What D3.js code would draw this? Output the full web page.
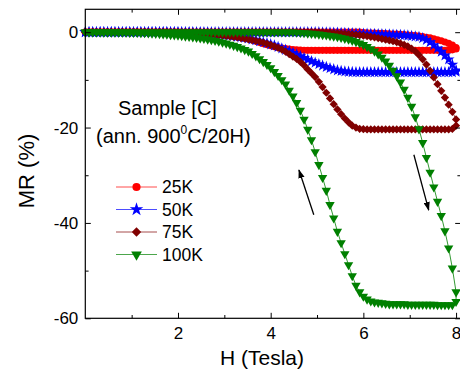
<!DOCTYPE html>
<html>
<head>
<meta charset="utf-8">
<script src="https://cdn.jsdelivr.net/npm/d3@7"></script>
<style>
  body { margin: 0; background: #fff; }
  svg { display: block; font-family: "Liberation Sans", Arial, sans-serif; }
</style>
</head>
<body>
<div id="chart"></div>
<script>
// field sweep, Tesla (same grid for up and down sweeps)
var field = [
  0, 0.08, 0.16, 0.24, 0.32, 0.4, 0.48, 0.56, 0.64, 0.72,
  0.8, 0.88, 0.96, 1.04, 1.12, 1.2, 1.28, 1.36, 1.44, 1.52,
  1.6, 1.68, 1.76, 1.84, 1.92, 2, 2.08, 2.16, 2.24, 2.32,
  2.4, 2.48, 2.56, 2.64, 2.72, 2.8, 2.88, 2.96, 3.04, 3.12,
  3.2, 3.28, 3.36, 3.44, 3.52, 3.6, 3.68, 3.76, 3.84, 3.92,
  4, 4.08, 4.16, 4.24, 4.32, 4.4, 4.48, 4.56, 4.64, 4.72,
  4.8, 4.88, 4.96, 5.04, 5.12, 5.2, 5.28, 5.36, 5.44, 5.52,
  5.6, 5.68, 5.76, 5.84, 5.92, 6, 6.08, 6.16, 6.24, 6.32,
  6.4, 6.48, 6.56, 6.64, 6.72, 6.8, 6.88, 6.96, 7.04, 7.12,
  7.2, 7.28, 7.36, 7.44, 7.52, 7.6, 7.68, 7.76, 7.84, 7.92,
  8
];

// MR (%) on the increasing-field sweep
var mr25Up = [
  0,0,0,0,0,0,0,0,0,0, 0,0,0,0,0,0,0,0,0,0,
  0,0,0,0,0,0,0,0,0,0, 0,0,0,0,0,0,0,0,0,0,
  0,0,0,0,0,0,0,0,0,0, 0,0,0,0,0,0,0,0,0,0,
  0,0,0,0,0,0,0,0,0,0,
  0,0,0,0,0,-0.1,-0.13,-0.16,-0.19,-0.22,
  -0.26,-0.3,-0.33,-0.37,-0.42,-0.47,-0.52,-0.58,-0.64,-0.72,
  -0.82,-0.93,-1.05,-1.2,-1.38,-1.58,-1.8,-2.05,-2.35,-2.7,
  -3.2
];
// MR (%) on the decreasing-field sweep (stored in ascending field order)
var mr25Down = [
  0,0,0,0,0,0,0,0,0,0, 0,0,0,0,0,0,0,0,0,0,
  0,0,0,0,0,0,-0.01,-0.02,-0.03,-0.045,
  -0.06,-0.08,-0.1,-0.13,-0.16,-0.2,-0.25,-0.31,-0.38,-0.48,
  -0.6,-0.76,-0.95,-1.17,-1.4,-1.65,-1.9,-2.15,-2.4,-2.63,
  -2.85,-3.03,-3.2,-3.33,-3.45,-3.55,-3.63,-3.7,-3.75,-3.78,
  -3.8,-3.8,-3.8,-3.8,-3.8,-3.8,-3.8,-3.8,-3.8,-3.8,
  -3.8,-3.8,-3.8,-3.8,-3.8,-3.8,-3.8,-3.8,-3.8,-3.8,
  -3.8,-3.8,-3.8,-3.8,-3.8,-3.8,-3.8,-3.8,-3.8,-3.8,
  -3.8,-3.8,-3.8,-3.8,-3.8,-3.8,-3.8,-3.8,-3.8,-3.7,
  -3.5
];

var mr50Up = [
  0,0,0,0,0,0,0,0,0,0, 0,0,0,0,0,0,0,0,0,0,
  0,0,0,0,0,0,0,0,0,0, 0,0,0,0,0,0,0,0,0,0,
  0,0,0,0,0,0,0,0,0,0, 0,0,0,0,0,0,0,0,0,0,
  0,0,0,-0.03,-0.05,-0.07,-0.09,-0.11,-0.13,-0.15,
  -0.18,-0.2,-0.23,-0.26,-0.29,-0.32,-0.34,-0.37,-0.4,-0.42,
  -0.45,-0.48,-0.51,-0.54,-0.57,-0.6,-0.65,-0.72,-0.8,-0.9,
  -1.0,-1.25,-1.6,-2.1,-2.7,-3.4,-4.1,-4.9,-5.7,-6.8,
  -8.0
];
var mr50Down = [
  0,0,0,0,0,0,0,0,0,0, 0,0,0,0,0,0,0,0,0,0,
  0,-0.01,-0.02,-0.03,-0.04,-0.05,-0.07,-0.09,-0.11,-0.13,
  -0.16,-0.19,-0.22,-0.26,-0.3,-0.35,-0.41,-0.5,-0.6,-0.7,
  -0.8,-0.92,-1.03,-1.17,-1.32,-1.5,-1.7,-1.9,-2.1,-2.3,
  -2.55,-2.8,-3.1,-3.4,-3.7,-4.0,-4.35,-4.7,-5.05,-5.4,
  -5.75,-6.1,-6.4,-6.7,-7.0,-7.3,-7.55,-7.8,-8.0,-8.15,
  -8.25,-8.32,-8.37,-8.4,-8.4,-8.4,-8.4,-8.4,-8.4,-8.4,
  -8.4,-8.4,-8.4,-8.4,-8.4,-8.4,-8.4,-8.4,-8.4,-8.4,
  -8.4,-8.4,-8.4,-8.4,-8.4,-8.4,-8.4,-8.4,-8.4,-8.4,
  -8.3
];

var mr75Up = [
  0,0,0,0,0,0,0,0,0,0, 0,0,0,0,0,0,0,0,0,0,
  0,0,0,0,0,0,0,0,0,0, 0,0,0,0,0,0,0,0,0,0,
  0,0,0,0,0,0,0,0,0,0, 0,0,0,0,0,0,0,0,0,0,
  0,0,0,-0.03,-0.06,-0.1,-0.14,-0.18,-0.23,-0.28,
  -0.34,-0.4,-0.47,-0.55,-0.64,-0.74,-0.85,-0.97,-1.1,-1.24,
  -1.4,-1.56,-1.72,-1.9,-2.1,-2.35,-2.65,-3.0,-3.45,-4.0,
  -4.8,-5.7,-6.8,-8.1,-9.5,-10.9,-12.3,-13.7,-15.2,-16.7,
  -18.3
];
var mr75Down = [
  0,0,0,0,0,0,0,0,0,0,
  0,0,0,0,0,-0.01,-0.01,-0.02,-0.02,-0.03,
  -0.04,-0.05,-0.06,-0.07,-0.09,-0.1,-0.12,-0.15,-0.19,-0.23,
  -0.28,-0.32,-0.37,-0.42,-0.48,-0.55,-0.61,-0.7,-0.78,-0.88,
  -1.0,-1.1,-1.23,-1.37,-1.52,-1.68,-1.84,-2.0,-2.18,-2.4,
  -2.65,-2.95,-3.28,-3.65,-4.1,-4.6,-5.1,-5.6,-6.2,-6.95,
  -7.8,-8.6,-9.4,-10.4,-11.5,-12.7,-13.9,-15.1,-16.2,-17.2,
  -18.1,-18.9,-19.6,-20.0,-20.25,-20.35,-20.4,-20.4,-20.4,-20.4,
  -20.4,-20.4,-20.4,-20.4,-20.4,-20.4,-20.4,-20.4,-20.4,-20.4,
  -20.4,-20.4,-20.4,-20.4,-20.4,-20.4,-20.4,-20.4,-20.4,-20.3,
  -19.6
];

var mr100Up = [
  0,0,0,0,0,0,0,0,0,0, 0,0,0,0,0,0,0,0,0,0,
  0,0,0,0,0,0,0,0,0,0, 0,0,0,0,0,0,0,0,0,0,
  0,0,0,0,0,0,0,0,0,0,
  0,0,0,0,0,0,0,-0.05,-0.1,-0.16,
  -0.22,-0.29,-0.36,-0.44,-0.53,-0.63,-0.74,-0.86,-1.0,-1.15,
  -1.32,-1.52,-1.75,-2.0,-2.3,-2.65,-3.05,-3.5,-4.0,-4.6,
  -5.3,-6.1,-7.0,-8.0,-9.2,-10.5,-12.0,-13.7,-15.6,-17.8,
  -20.3,-23.2,-26.3,-29.4,-32.5,-35.5,-38.5,-41.7,-45.3,-49.5,
  -54.5
];
var mr100Down = [
  0,0,0,0,0,-0.01,-0.01,-0.02,-0.02,-0.03,
  -0.04,-0.05,-0.06,-0.08,-0.1,-0.13,-0.16,-0.2,-0.24,-0.29,
  -0.34,-0.4,-0.46,-0.53,-0.6,-0.68,-0.76,-0.85,-0.94,-1.03,
  -1.13,-1.24,-1.36,-1.49,-1.63,-1.78,-1.94,-2.12,-2.32,-2.55,
  -2.8,-3.07,-3.36,-3.68,-4.0,-4.5,-5.0,-5.6,-6.2,-6.8,
  -7.5,-8.3,-9.1,-10.0,-10.9,-12.2,-13.4,-14.8,-16.4,-18.3,
  -20.4,-22.6,-25.1,-27.8,-30.5,-33.2,-36.2,-39.0,-41.8,-44.2,
  -46.5,-48.8,-51.1,-53.1,-54.5,-55.4,-56.0,-56.4,-56.6,-56.7,
  -56.8,-56.9,-57.0,-57.0,-57.0,-57.0,-57.0,-57.1,-57.1,-57.1,
  -57.1,-57.1,-57.1,-57.1,-57.1,-57.2,-57.2,-57.2,-57.2,-57.2,
  -56.5
];

var temps = ["25K", "50K", "75K", "100K"];
var xMajor = [2, 4, 6, 8], xMinor = [1, 3, 5, 7];
var yMajor = [0, -20, -40, -60], yMinor = [-10, -30, -50];

var W = 460, H = 369;
var plotL = 85.3, plotR = 460.7, plotT = 9.3, plotB = 318.3;

var x = d3.scaleLinear().domain([0, 8.1]).range([plotL, plotR]);
var y = d3.scaleLinear().domain([-60, 4.8]).range([plotB, plotT]);

var svg = d3.select("#chart").append("svg").attr("width", W).attr("height", H);

// one loop per temperature: up sweep 0 -> 8 T, then back down 8 -> 0 T
function loop(up, down) {
  var pts = field.map(function(h, i){ return [h, up[i]]; });
  for (var i = field.length - 1; i >= 0; i--) pts.push([field[i], down[i]]);
  return pts;
}

var series = [
  {name: temps[0], color: "#ff0000", sym: d3.symbolCircle, size: 40, rot: 0, pts: loop(mr25Up, mr25Down)},
  {name: temps[1], color: "#0000ff", sym: d3.symbolStar, size: 44, rot: 0, pts: loop(mr50Up, mr50Down)},
  {name: temps[2], color: "#800000", sym: d3.symbolSquare, size: 34, rot: 45, pts: loop(mr75Up, mr75Down)},
  {name: temps[3], color: "#008000", sym: d3.symbolTriangle, size: 38, rot: 180, pts: loop(mr100Up, mr100Down)}
];

var line = d3.line().x(function(d){ return x(d[0]); }).y(function(d){ return y(d[1]); });

series.forEach(function(s){
  var g = svg.append("g");
  g.append("path").attr("d", line(s.pts))
    .attr("fill", "none").attr("stroke", s.color).attr("stroke-width", 1).attr("stroke-opacity", 0.8);
  var shape = d3.symbol().type(s.sym).size(s.size)();
  g.selectAll("path.pt").data(s.pts).enter().append("path").attr("class", "pt")
    .attr("d", shape)
    .attr("transform", function(d){ return "translate(" + x(d[0]) + "," + y(d[1]) + ") rotate(" + s.rot + ")"; })
    .attr("fill", s.color);
});

// axes: ticks point inward on all four sides
function styleAxis(g) {
  g.select(".domain").remove();
  g.selectAll(".tick line").attr("stroke", "#000").attr("stroke-width", 1);
  g.selectAll(".tick text").attr("fill", "#000").style("font-size", "17px")
    .style("font-family", "'Liberation Sans', Arial, sans-serif");
}
var fmt = function(d){ return String(d); };

svg.append("g").attr("transform", "translate(0," + plotB + ")")
  .call(d3.axisBottom(x).tickValues(xMajor).tickSize(-5.5).tickPadding(9).tickFormat(fmt)).call(styleAxis);
svg.append("g").attr("transform", "translate(0," + plotB + ")")
  .call(d3.axisBottom(x).tickValues(xMinor).tickSize(-3.3).tickFormat("")).call(styleAxis);
svg.append("g").attr("transform", "translate(0," + plotT + ")")
  .call(d3.axisTop(x).tickValues(xMajor).tickSize(-5.5).tickFormat("")).call(styleAxis);
svg.append("g").attr("transform", "translate(0," + plotT + ")")
  .call(d3.axisTop(x).tickValues(xMinor).tickSize(-3.3).tickFormat("")).call(styleAxis);

svg.append("g").attr("transform", "translate(" + plotL + ",0)")
  .call(d3.axisLeft(y).tickValues(yMajor).tickSize(-5.5).tickPadding(7).tickFormat(fmt)).call(styleAxis);
svg.append("g").attr("transform", "translate(" + plotL + ",0)")
  .call(d3.axisLeft(y).tickValues(yMinor).tickSize(-3.3).tickFormat("")).call(styleAxis);
svg.append("g").attr("transform", "translate(" + plotR + ",0)")
  .call(d3.axisRight(y).tickValues(yMajor).tickSize(-5.5).tickFormat("")).call(styleAxis);
svg.append("g").attr("transform", "translate(" + plotR + ",0)")
  .call(d3.axisRight(y).tickValues(yMinor).tickSize(-3.3).tickFormat("")).call(styleAxis);

svg.append("rect").attr("x", plotL).attr("y", plotT)
  .attr("width", plotR - plotL).attr("height", plotB - plotT)
  .attr("fill", "none").attr("stroke", "#000").attr("stroke-width", 1.2);

// axis titles
svg.append("text").attr("x", 262).attr("y", 365).attr("text-anchor", "middle")
  .style("font-size", "21px").text("H (Tesla)");
svg.append("text").attr("transform", "translate(34,171) rotate(-90)").attr("text-anchor", "middle")
  .style("font-size", "22px").text("MR (%)");

// sample annotation
svg.append("text").attr("x", 118).attr("y", 115).style("font-size", "20px").text("Sample [C]");
var ann = svg.append("text").attr("x", 96).attr("y", 143).style("font-size", "20px");
ann.append("tspan").text("(ann. 900");
ann.append("tspan").attr("dy", -9).style("font-size", "12px").text("0");
ann.append("tspan").attr("dy", 9).text("C/20H)");

// legend
var legY = [187, 209.5, 232, 254.5];
series.forEach(function(s, i){
  var g = svg.append("g").attr("transform", "translate(0," + legY[i] + ")");
  g.append("line").attr("x1", 116).attr("x2", 157).attr("stroke", s.color)
    .attr("stroke-width", 1).attr("stroke-opacity", 0.7);
  g.append("path").attr("d", d3.symbol().type(s.sym).size(s.size * 1.3)())
    .attr("transform", "translate(136.5,0) rotate(" + s.rot + ")").attr("fill", s.color);
  g.append("text").attr("x", 162).attr("dy", "0.36em").style("font-size", "17.5px").text(s.name);
});

// sweep direction arrows
var defs = svg.append("defs");
defs.append("marker").attr("id", "head").attr("viewBox", "0 0 10 7")
  .attr("refX", 9).attr("refY", 3.5).attr("markerWidth", 9).attr("markerHeight", 6.5)
  .attr("markerUnits", "userSpaceOnUse").attr("orient", "auto")
  .append("path").attr("d", "M0,0 L10,3.5 L0,7 Z").attr("fill", "#000");

var arrows = [
  [[4.93, -38.3], [4.61, -28.9]],
  [[7.09, -25.7], [7.41, -37.3]]
];
arrows.forEach(function(a){
  svg.append("line")
    .attr("x1", x(a[0][0])).attr("y1", y(a[0][1]))
    .attr("x2", x(a[1][0])).attr("y2", y(a[1][1]))
    .attr("stroke", "#000").attr("stroke-width", 1.3).attr("marker-end", "url(#head)");
});
</script>
</body>
</html>
